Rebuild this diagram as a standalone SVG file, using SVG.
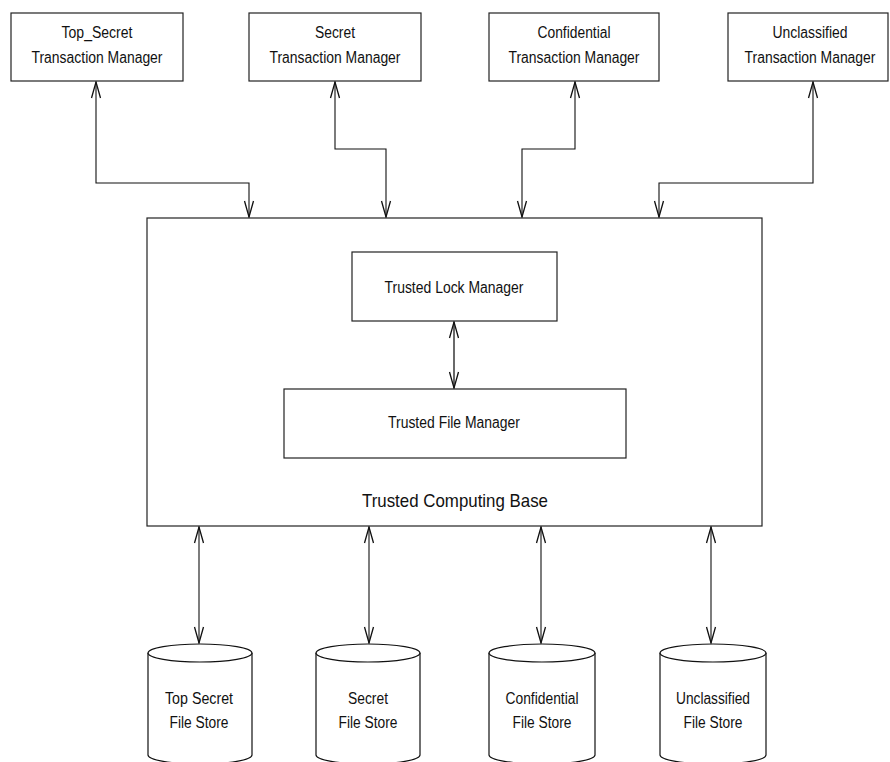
<svg xmlns="http://www.w3.org/2000/svg" width="890" height="762" viewBox="0 0 890 762">
<style>
.box{fill:#fff;stroke:#222;stroke-width:1.2}
.cyl{fill:#fff;stroke:#111;stroke-width:1.2}
.t{font-family:"Liberation Sans",Arial,sans-serif;font-size:16px;fill:#111;text-anchor:middle}
.big{font-size:19px}
.con{fill:none;stroke:#111;stroke-width:1.1;marker-start:url(#arr);marker-end:url(#arr)}
</style>
<defs>
<marker id="arr" viewBox="-17 -6 18 12" refX="0" refY="0" markerWidth="18" markerHeight="12" markerUnits="userSpaceOnUse" orient="auto-start-reverse">
<path d="M-16,-4.5 L0,0 L-16,4.5" fill="none" stroke="#111" stroke-width="1.3"/>
</marker>
</defs>
<rect width="890" height="762" fill="#fff"/>

<g id="tm-topsecret">
<rect class="box" x="11" y="13" width="172" height="68"/>
<text class="t" x="97" y="38" textLength="71" lengthAdjust="spacingAndGlyphs">Top_Secret</text>
<text class="t" x="97" y="63" textLength="131" lengthAdjust="spacingAndGlyphs">Transaction Manager</text>
</g>
<g id="tm-secret">
<rect class="box" x="249" y="13" width="172" height="68"/>
<text class="t" x="335" y="38" textLength="40" lengthAdjust="spacingAndGlyphs">Secret</text>
<text class="t" x="335" y="63" textLength="131" lengthAdjust="spacingAndGlyphs">Transaction Manager</text>
</g>
<g id="tm-confidential">
<rect class="box" x="489" y="13" width="170" height="68"/>
<text class="t" x="574" y="38" textLength="73" lengthAdjust="spacingAndGlyphs">Confidential</text>
<text class="t" x="574" y="63" textLength="131" lengthAdjust="spacingAndGlyphs">Transaction Manager</text>
</g>
<g id="tm-unclassified">
<rect class="box" x="728" y="13" width="160" height="68"/>
<text class="t" transform="translate(810,38) scale(0.87,1)" x="0" y="0">Unclassified</text>
<text class="t" transform="translate(810,63) scale(0.87,1)" x="0" y="0">Transaction Manager</text>
</g>

<g id="tcb">
<rect class="box" x="147" y="218" width="615" height="308"/>
<text class="t big" x="455" y="507" textLength="186" lengthAdjust="spacingAndGlyphs">Trusted Computing Base</text>
</g>
<g id="lock-manager">
<rect class="box" x="352" y="252" width="205" height="69"/>
<text class="t" x="454" y="293" textLength="139" lengthAdjust="spacingAndGlyphs">Trusted Lock Manager</text>
</g>
<g id="file-manager">
<rect class="box" x="284" y="389" width="342" height="69"/>
<text class="t" x="454" y="428" textLength="132" lengthAdjust="spacingAndGlyphs">Trusted File Manager</text>
</g>

<g id="fs-topsecret">
<path class="cyl" d="M148,653 A52,9 0 0 1 252,653 L252,755 A52,9 0 0 1 148,755 Z"/>
<path class="cyl" d="M148,653 A52,9 0 0 0 252,653" fill="none"/>
<text class="t" x="199" y="704" textLength="68" lengthAdjust="spacingAndGlyphs">Top Secret</text>
<text class="t" x="199" y="728" textLength="59" lengthAdjust="spacingAndGlyphs">File Store</text>
</g>
<g id="fs-secret">
<path class="cyl" d="M316,653 A52,9 0 0 1 420,653 L420,755 A52,9 0 0 1 316,755 Z"/>
<path class="cyl" d="M316,653 A52,9 0 0 0 420,653" fill="none"/>
<text class="t" x="368" y="704" textLength="40" lengthAdjust="spacingAndGlyphs">Secret</text>
<text class="t" x="368" y="728" textLength="59" lengthAdjust="spacingAndGlyphs">File Store</text>
</g>
<g id="fs-confidential">
<path class="cyl" d="M489,653 A53,9 0 0 1 595,653 L595,755 A53,9 0 0 1 489,755 Z"/>
<path class="cyl" d="M489,653 A53,9 0 0 0 595,653" fill="none"/>
<text class="t" x="542" y="704" textLength="73" lengthAdjust="spacingAndGlyphs">Confidential</text>
<text class="t" x="542" y="728" textLength="59" lengthAdjust="spacingAndGlyphs">File Store</text>
</g>
<g id="fs-unclassified">
<path class="cyl" d="M660,653 A53,9 0 0 1 766,653 L766,755 A53,9 0 0 1 660,755 Z"/>
<path class="cyl" d="M660,653 A53,9 0 0 0 766,653" fill="none"/>
<text class="t" x="713" y="704" textLength="74" lengthAdjust="spacingAndGlyphs">Unclassified</text>
<text class="t" x="713" y="728" textLength="59" lengthAdjust="spacingAndGlyphs">File Store</text>
</g>

<g id="connectors">
<path class="con" d="M96,82 L96,183 L249,183 L249,217"/>
<path class="con" d="M335,82 L335,149 L386,149 L386,217"/>
<path class="con" d="M575,82 L575,149 L522,149 L522,217"/>
<path class="con" d="M813,82 L813,183 L659,183 L659,217"/>
<path class="con" d="M454,322 L454,388" style="stroke:#444;stroke-width:1.6"/>
<path class="con" d="M199,527 L199,643"/>
<path class="con" d="M369,527 L369,643"/>
<path class="con" d="M541,527 L541,643"/>
<path class="con" d="M711,527 L711,643"/>
</g>
</svg>
